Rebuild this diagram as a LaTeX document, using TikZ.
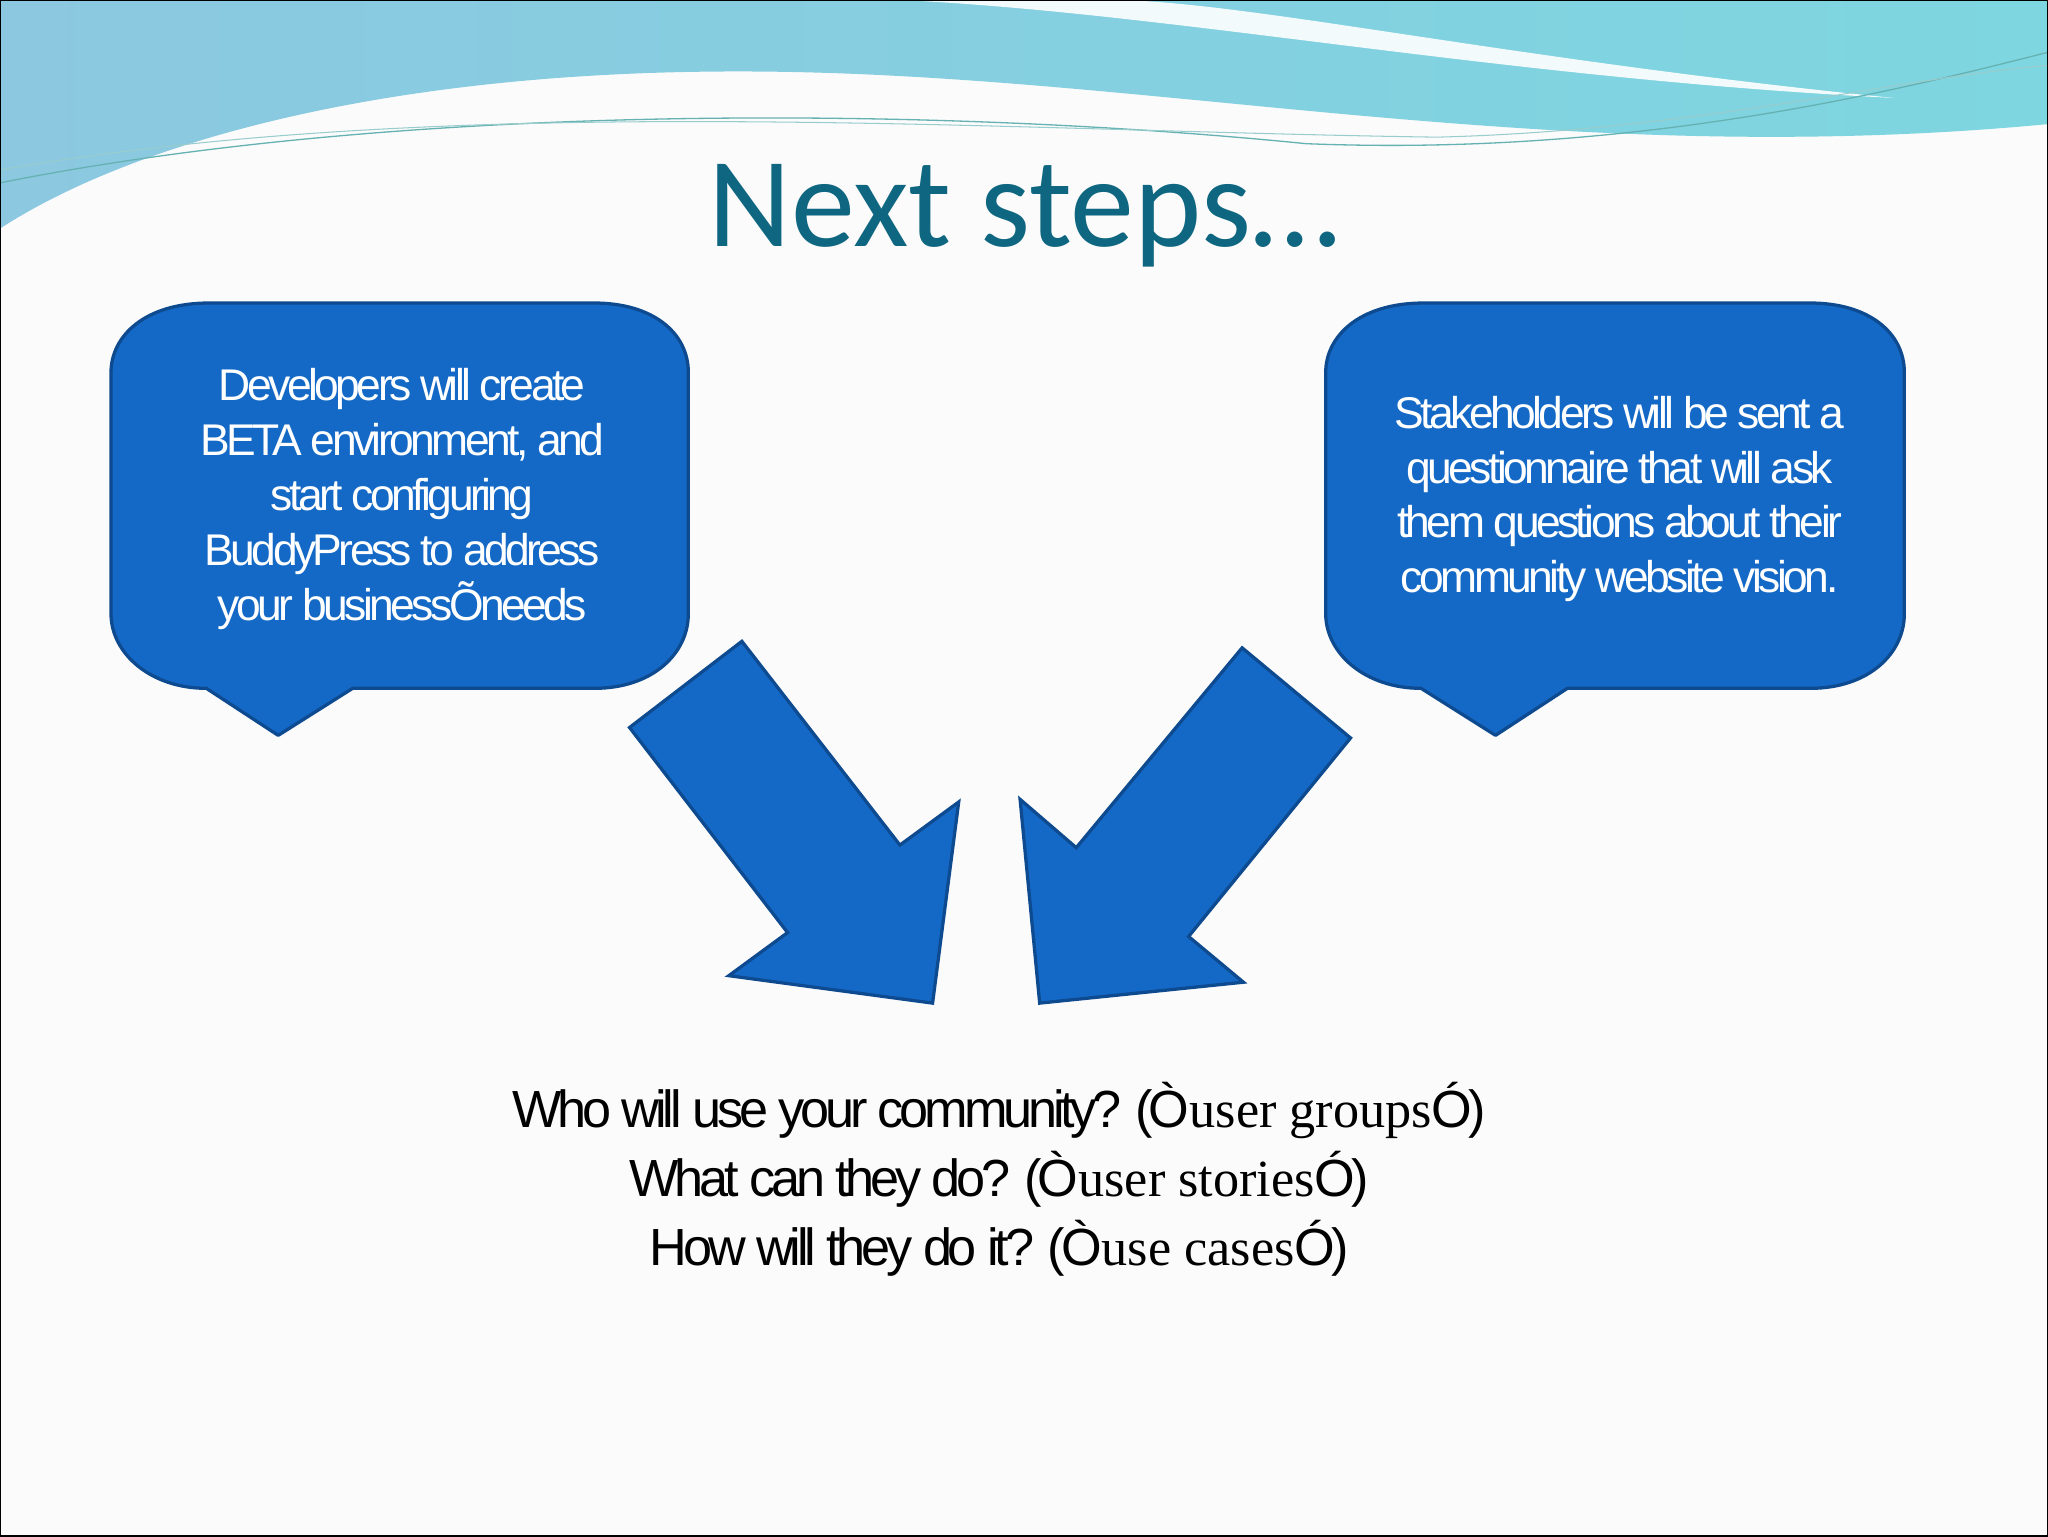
\documentclass[tikz,border=0pt]{standalone}
\usepackage{fontspec}
\setmainfont{Liberation Sans}
\newfontfamily\carl{Carlito}
\newfontfamily\serf{Liberation Serif}
\newfontfamily\tight[LetterSpace=-8.0]{Liberation Sans}
\definecolor{boxblue}{HTML}{1469C6}
\definecolor{boxedge}{HTML}{0D4A8F}
\definecolor{titlec}{HTML}{0E6680}
\definecolor{wavea}{HTML}{8CC8E0}
\definecolor{waveb}{HTML}{7DD6E0}
\tikzset{
  bubble/.style={fill=boxblue,draw=boxedge,line width=2.5pt,line join=round},
  bigarrow/.style={fill=boxblue,draw=boxedge,line width=2.5pt,line join=miter},
  bubtext/.style={text=white,align=center,font=\tight\fontsize{34}{42}\selectfont,inner sep=0pt},
  bottext/.style={text=black,align=center,font=\tight\fontsize{40}{53}\selectfont,inner sep=0pt}
}
\begin{document}
\begin{tikzpicture}[x=1pt,y=-1pt]
\useasboundingbox (0,0) rectangle (1568,1176);
\fill[white!97!gray] (0,0) rectangle (1568,1176);
% top wave
\shade[left color=wavea,right color=waveb] (0,0) -- (1568,0) -- (1568,95)
  .. controls (1200,130) and (900,60) .. (600,55)
  .. controls (300,50) and (100,110) .. (0,175) -- cycle;
\fill[white,opacity=0.9] (690,0) .. controls (900,10) and (1150,60) .. (1450,75)
  .. controls (1150,45) and (950,0) .. (850,0) -- cycle;
\draw[teal!60,line width=1pt] (0,140) .. controls (300,80) and (700,80) .. (1000,110) .. controls (1250,120) and (1450,70) .. (1568,40);
\draw[teal!40,line width=0.8pt] (0,130) .. controls (350,70) and (750,100) .. (1100,105) .. controls (1300,100) and (1450,60) .. (1568,50);
\draw[black,line width=1pt] (0,0) rectangle (1568,1176);
\node[text=titlec,font=\carl\fontsize{98}{100}\selectfont,anchor=center] (title) at (784,165) {Next steps…};
% left bubble
\draw[bubble] (158,527) -- (213,563) -- (270,527) -- (455,527)
  .. controls (500,527) and (527,500) .. (527,470) -- (527,285)
  .. controls (527,255) and (500,232) .. (455,232) -- (160,232)
  .. controls (110,232) and (85,258) .. (85,285) -- (85,470)
  .. controls (85,500) and (115,527) .. (158,527) -- cycle;
\node[bubtext] (lt) at (308,382) {Developers will create\\BETA environment, and\\start configuring\\BuddyPress to address\\your businessÕneeds};
% right bubble
\draw[bubble] (1088,527) -- (1145,563) -- (1200,527) -- (1386,527)
  .. controls (1431,527) and (1458,500) .. (1458,470) -- (1458,285)
  .. controls (1458,255) and (1431,232) .. (1386,232) -- (1090,232)
  .. controls (1040,232) and (1015,258) .. (1015,285) -- (1015,470)
  .. controls (1015,500) and (1045,527) .. (1088,527) -- cycle;
\node[bubtext] (rt) at (1240,382) {Stakeholders will be sent a\\questionnaire that will ask\\them questions about their\\community website vision.};
% arrows
\draw[bigarrow] (482,557) -- (568,491) -- (689,647) -- (734,614) -- (714,768) -- (558,747) -- (603,714) -- cycle;
\draw[bigarrow] (951,496) -- (1034,565) -- (910,717) -- (952,752) -- (796,768) -- (781,612) -- (824,649) -- cycle;
% bottom text
\node[bottext] (bt) at (765,903) {Who will use your community? (Ò{\serf user groups}Ó)\\What can they do? (Ò{\serf user stories}Ó)\\How will they do it? (Ò{\serf use cases}Ó)};
\end{tikzpicture}
\end{document}
